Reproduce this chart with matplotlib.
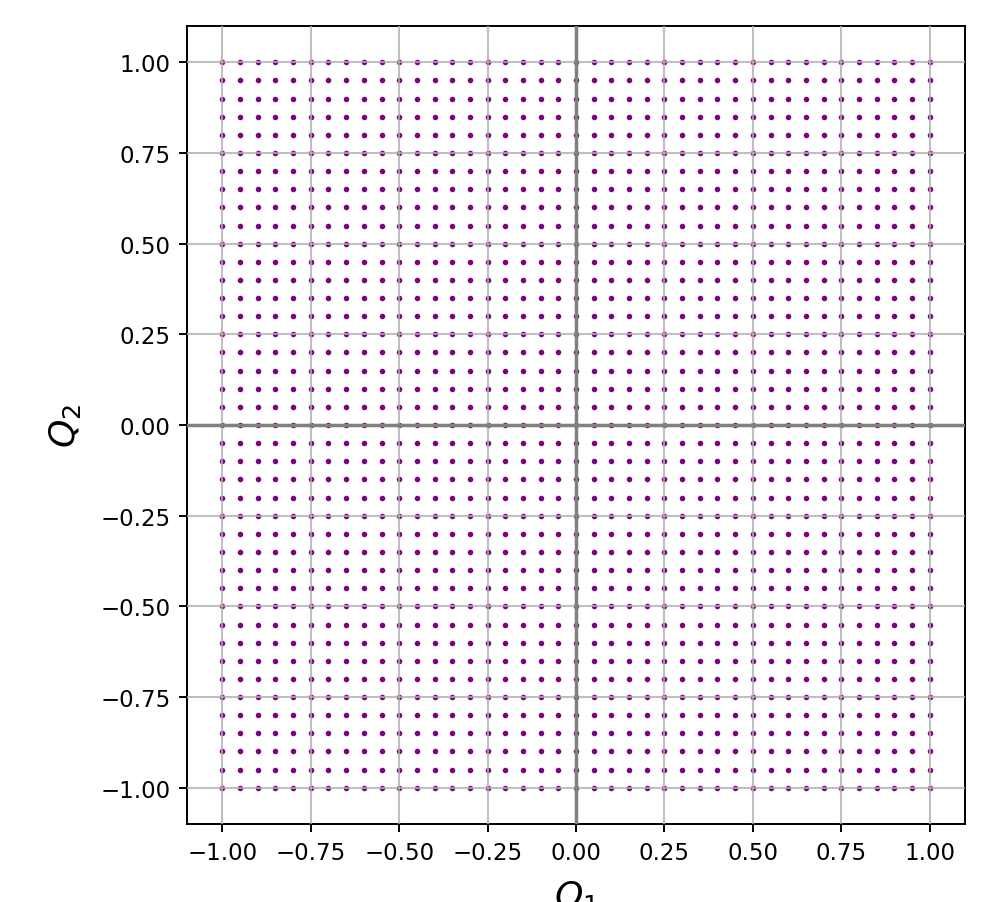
import matplotlib.pyplot as plt
import numpy as np

# quantisation levels on each axis (step 0.05)
q1_levels = [-1.00, -0.95, -0.90, -0.85, -0.80, -0.75, -0.70, -0.65, -0.60, -0.55,
             -0.50, -0.45, -0.40, -0.35, -0.30, -0.25, -0.20, -0.15, -0.10, -0.05,
             0.00, 0.05, 0.10, 0.15, 0.20, 0.25, 0.30, 0.35, 0.40, 0.45,
             0.50, 0.55, 0.60, 0.65, 0.70, 0.75, 0.80, 0.85, 0.90, 0.95, 1.00]
q2_levels = list(q1_levels)
ticks = [-1.00, -0.75, -0.50, -0.25, 0.00, 0.25, 0.50, 0.75, 1.00]

Q1, Q2 = np.meshgrid(q1_levels, q2_levels)

fig = plt.figure(figsize=(9.97, 9.03), dpi=100)
ax = fig.add_axes([187 / 997, 1 - 825 / 903, 778 / 997, 798 / 903])
ax.scatter(Q1.ravel(), Q2.ravel(), s=16, color='purple', linewidths=0, zorder=1)
ax.grid(True, color='#b0b0b0', linewidth=1.5, alpha=0.8, zorder=2)
ax.set_axisbelow(False)
ax.axhline(0, color='gray', linewidth=2.5, zorder=3)
ax.axvline(0, color='gray', linewidth=2.5, zorder=3)
ax.set_xlim(-1.1, 1.1)
ax.set_ylim(-1.1, 1.1)
ax.set_xticks(ticks)
ax.set_yticks(ticks)
ax.tick_params(labelsize=16.5, length=6, width=1.4, pad=6)
for s in ax.spines.values():
    s.set_linewidth(1.4)
ax.set_xlabel('$Q_1$', fontsize=26, labelpad=10)
ax.set_ylabel('$Q_2$', fontsize=26, labelpad=12)
plt.savefig('out.png', dpi=100)
